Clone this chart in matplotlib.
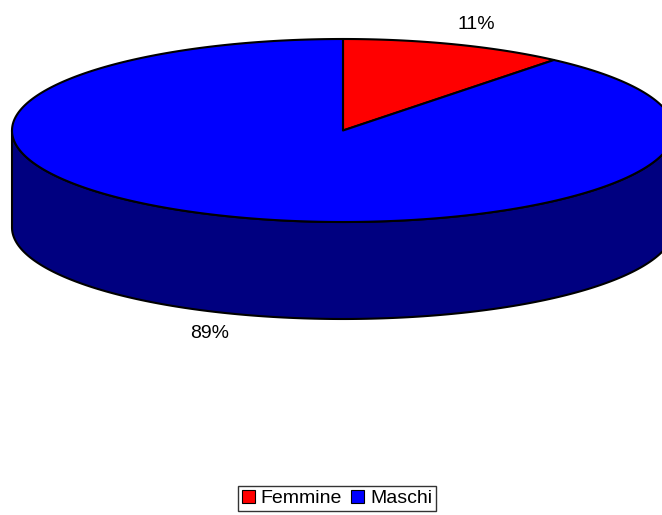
import numpy as np
import matplotlib
matplotlib.use("Agg")
import matplotlib.pyplot as plt
from matplotlib.patches import Polygon, Patch

plt.rcParams['font.family'] = ['Liberation Sans', 'DejaVu Sans']

categories = ['Femmine', 'Maschi']
values = [11, 89]
top_colors = ['#ff0000', '#0000ff']
side_colors = ['#800000', '#000080']

# pie geometry (pixels)
cx, cy = 343, 130.5
rx, ry = 331, 91.5
depth = 97

fig = plt.figure(figsize=(6.62, 5.15), dpi=100)
ax = fig.add_axes([0, 0, 1, 1])
ax.set_xlim(0, 662)
ax.set_ylim(515, 0)
ax.axis('off')


def pt(t, dy=0):
    # t: angle clockwise from 12 o'clock (radians)
    return cx + rx * np.sin(t), cy - ry * np.cos(t) + dy


total = sum(values)
starts = np.cumsum([0] + values[:-1]) / total * 2 * np.pi
ends = np.cumsum(values) / total * 2 * np.pi

# sides (visible front half: 90..270 degrees clockwise from top)
for s, e, c in zip(starts, ends, side_colors):
    a, b = max(s, np.pi / 2), min(e, 3 * np.pi / 2)
    if b <= a:
        continue
    t = np.linspace(a, b, 200)
    xt, yt = pt(t)
    xb, yb = pt(t[::-1], depth)
    poly = np.column_stack([np.r_[xt, xb], np.r_[yt, yb]])
    ax.add_patch(Polygon(poly, closed=True, facecolor=c, edgecolor='black', lw=1.5))

# top wedges
for s, e, c in zip(starts, ends, top_colors):
    t = np.linspace(s, e, 300)
    x, y = pt(t)
    poly = np.column_stack([np.r_[cx, x], np.r_[cy, y]])
    ax.add_patch(Polygon(poly, closed=True, facecolor=c, edgecolor='black', lw=1.5,
                         joinstyle='round'))

# percentage labels
for s, e, v in zip(starts, ends, values):
    m = (s + e) / 2
    lx = cx + 1.19 * rx * np.sin(m)
    ly = cy - 1.23 * ry * np.cos(m)
    if np.cos(m) < 0:
        ly += depth
    ax.text(lx, ly, f"{v / total * 100:.0f}%", ha='center', va='center', fontsize=14)

handles = [Patch(facecolor=c, edgecolor='black', lw=0.8) for c in top_colors]
fig.legend(handles, categories, loc='lower center', bbox_to_anchor=(0.509, 0.008),
           ncol=2, fontsize=14, frameon=True, fancybox=False, edgecolor='black',
           handlelength=0.65, handleheight=0.65, handletextpad=0.3, columnspacing=0.5,
           borderpad=0.2, borderaxespad=0)

fig.savefig('out.png', dpi=100)
